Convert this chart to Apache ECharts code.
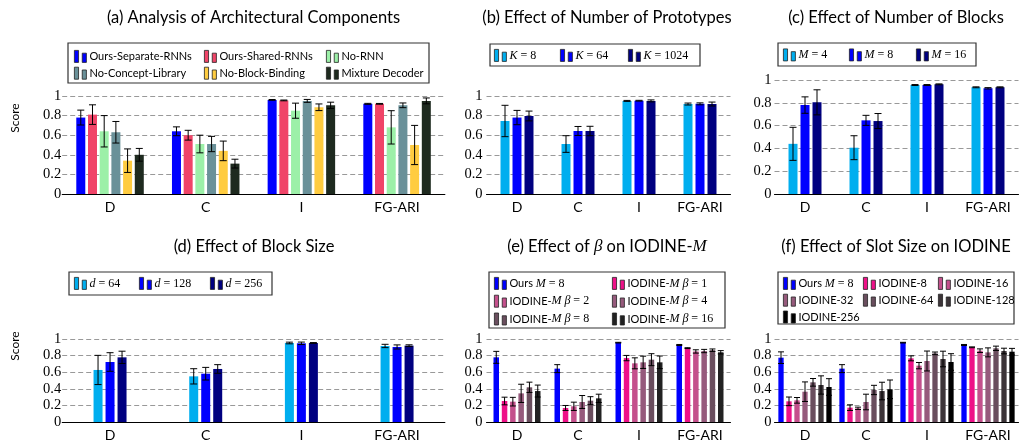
<!DOCTYPE html>
<html><head><meta charset="utf-8">
<script src="https://cdn.jsdelivr.net/npm/echarts@6/dist/echarts.min.js"></script>
<style>html,body{margin:0;padding:0;background:#fff}#c{width:1025px;height:440px}</style>
</head><body><div id="c"></div>
<script>
// ---------------- data ----------------
const categories = ['D', 'C', 'I', 'FG-ARI'];
const yTicks = [0, 0.2, 0.4, 0.6, 0.8, 1];

const titles = [
  '(a) Analysis of Architectural Components',
  '(b) Effect of Number of Prototypes',
  '(c) Effect of Number of Blocks',
  '(d) Effect of Block Size',
  '(e) Effect of {mi|β} on IODINE-{mi|M}',
  '(f) Effect of Slot Size on IODINE'
];
const yName = 'Score';

// (a)
const aNames = ['Ours-Separate-RNNs', 'Ours-Shared-RNNs', 'No-RNN', 'No-Concept-Library', 'No-Block-Binding', 'Mixture Decoder'];
const aMeans = [
  [0.78, 0.64, 0.96, 0.92],
  [0.81, 0.60, 0.955, 0.92],
  [0.64, 0.51, 0.85, 0.68],
  [0.63, 0.51, 0.95, 0.905],
  [0.34, 0.44, 0.885, 0.50],
  [0.40, 0.31, 0.905, 0.95]
];
const aErrs = [
  [0.076, 0.045, 0.004, 0.005],
  [0.10, 0.05, 0.004, 0.004],
  [0.16, 0.09, 0.077, 0.17],
  [0.11, 0.078, 0.015, 0.024],
  [0.12, 0.10, 0.034, 0.20],
  [0.065, 0.045, 0.032, 0.03]
];
// (b)
const bNames = ['K = 8', 'K = 64', 'K = 1024'];
const bMeans = [
  [0.745, 0.51, 0.95, 0.918],
  [0.78, 0.643, 0.952, 0.92],
  [0.796, 0.643, 0.95, 0.918]
];
const bErrs = [
  [0.16, 0.085, 0.005, 0.01],
  [0.073, 0.046, 0.004, 0.01],
  [0.05, 0.048, 0.01, 0.02]
];
// (c)
const cNames = ['M = 4', 'M = 8', 'M = 16'];
const cMeans = [
  [0.44, 0.406, 0.956, 0.936],
  [0.78, 0.646, 0.956, 0.927],
  [0.804, 0.64, 0.962, 0.936]
];
const cErrs = [
  [0.145, 0.105, 0.004, 0.004],
  [0.072, 0.044, 0.004, 0.006],
  [0.11, 0.066, 0.004, 0.004]
];
// (d)
const dNames = ['d = 64', 'd = 128', 'd = 256'];
const dMeans = [
  [0.627, 0.55, 0.952, 0.916],
  [0.723, 0.582, 0.948, 0.904],
  [0.779, 0.639, 0.952, 0.92]
];
const dErrs = [
  [0.176, 0.092, 0.01, 0.02],
  [0.112, 0.076, 0.015, 0.025],
  [0.074, 0.052, 0.005, 0.01]
];
// (e)
const eNames = ['Ours M = 8', 'IODINE-M β = 1', 'IODINE-M β = 2', 'IODINE-M β = 4', 'IODINE-M β = 8', 'IODINE-M β = 16'];
const eMeans = [
  [0.779, 0.643, 0.956, 0.928],
  [0.253, 0.169, 0.77, 0.89],
  [0.245, 0.189, 0.707, 0.85],
  [0.345, 0.241, 0.719, 0.855],
  [0.418, 0.257, 0.751, 0.865],
  [0.373, 0.285, 0.719, 0.84]
];
const eErrs = [
  [0.072, 0.048, 0.004, 0.006],
  [0.046, 0.03, 0.032, 0.005],
  [0.052, 0.05, 0.066, 0.02],
  [0.11, 0.078, 0.074, 0.02],
  [0.062, 0.048, 0.072, 0.015],
  [0.072, 0.05, 0.076, 0.02]
];
// (f)
const fNames = ['Ours M = 8', 'IODINE-8', 'IODINE-16', 'IODINE-32', 'IODINE-64', 'IODINE-128', 'IODINE-256'];
const fMeans = [
  [0.775, 0.643, 0.956, 0.928],
  [0.249, 0.173, 0.767, 0.90],
  [0.261, 0.165, 0.679, 0.859],
  [0.365, 0.241, 0.735, 0.839],
  [0.478, 0.386, 0.827, 0.888],
  [0.446, 0.373, 0.759, 0.855],
  [0.422, 0.394, 0.723, 0.847]
];
const fErrs = [
  [0.07, 0.048, 0.004, 0.006],
  [0.052, 0.034, 0.03, 0.005],
  [0.034, 0.014, 0.038, 0.022],
  [0.118, 0.094, 0.12, 0.054],
  [0.046, 0.056, 0.016, 0.026],
  [0.11, 0.106, 0.094, 0.034],
  [0.10, 0.112, 0.10, 0.04]
];

// ---------------- layout / style ----------------
const SANS = 'Lato';
const SERIF = 'Liberation Serif';
const richMath = {
  mi: { fontFamily: SERIF, fontStyle: 'italic', fontSize: 12, lineHeight: 12 },
  mr: { fontFamily: SERIF, fontSize: 12, lineHeight: 12 }
};
const ICON = 'path://M0,0H4.5V13H0Z M8.5,3H13V13H8.5Z';

const panels = [
  { names: aNames, means: aMeans, errs: aErrs,
    colors: ['#0000FF', '#F04468', '#9CF0A8', '#6A9199', '#FFCC40', '#1E2A1F'],
    grid: { left: 62.2, width: 382.7, top: 96, height: 98 }, barWidth: 9, step: 11.7, cap: 7, margin: 1,
    title: [253.5, 18], score: [15, 118],
    box: [68, 43, 361, 40], legTop: 50, legGap: 4,
    legCols: [[74, [0, 3]], [204, [1, 4]], [326, [2, 5]]] },
  { names: bNames, means: bMeans, errs: bErrs,
    colors: ['#00AEEF', '#0000FF', '#000080'],
    grid: { left: 486.5, width: 244, top: 96, height: 98 }, barWidth: 9, step: 12, cap: 7, margin: 4,
    title: [607, 18],
    box: [490, 44, 210, 22], legTop: 49, legGap: 4,
    legCols: [[494, [0]], [560, [1]], [628, [2]]] },
  { names: cNames, means: cMeans, errs: cErrs,
    colors: ['#00AEEF', '#0000FF', '#000080'],
    grid: { left: 774.5, width: 244, top: 80, height: 114 }, barWidth: 9, step: 12, cap: 7, margin: 3,
    title: [896, 18],
    box: [778, 43, 198, 23], legTop: 48.5, legGap: 4,
    legCols: [[783, [0]], [849, [1]], [916, [2]]] },
  { names: dNames, means: dMeans, errs: dErrs,
    colors: ['#00AEEF', '#0000FF', '#000080'],
    grid: { left: 62.2, width: 382.7, top: 339, height: 83 }, barWidth: 9, step: 12, cap: 7, margin: 1,
    title: [254, 247], score: [15, 346],
    box: [69, 272, 203, 23], legTop: 277, legGap: 4,
    legCols: [[74, [0]], [139, [1]], [210, [2]]] },
  { names: eNames, means: eMeans, errs: eErrs,
    colors: ['#0000FF', '#EE1188', '#C4508C', '#965A7C', '#6A4E5E', '#222222'],
    grid: { left: 486.5, width: 244, top: 339, height: 83 }, barWidth: 5.5, step: 8.3, cap: 6, margin: 4,
    title: [607, 247],
    box: [489, 272, 236, 56], legTop: 277, legGap: 5,
    legCols: [[494, [0, 2, 4]], [612, [1, 3, 5]]] },
  { names: fNames, means: fMeans, errs: fErrs,
    colors: ['#0000FF', '#EE1188', '#C4508C', '#965A7C', '#6A4E5E', '#3C3438', '#000000'],
    grid: { left: 774.5, width: 244, top: 339, height: 83 }, barWidth: 5.3, step: 8, cap: 6, margin: 3,
    title: [896, 247],
    box: [778, 272, 236, 52], legTop: 277, legGap: 4,
    legCols: [[783, [0, 3, 6]], [863, [1, 4]], [938, [2, 5]]] }
];

function mathify(s) {
  let t = s.replace(/ = (\d+)$/, '{mr| = $1}');
  t = t.replace(/(^|[-\s])([KMdβ])(?=[\s{])/g, '$1{mi|$2}');
  return t;
}

const grids = [], xAxes = [], yAxes = [], series = [], legends = [], graphics = [];

panels.forEach((p, pi) => {
  grids.push(Object.assign({ outerBoundsMode: 'none', containLabel: false }, p.grid));
  xAxes.push({
    type: 'category', gridIndex: pi, data: categories,
    axisLine: { lineStyle: { color: '#000', width: 1 } },
    axisTick: { show: false },
    axisLabel: { fontFamily: SANS, fontSize: 14, color: '#000', margin: 6 },
    splitLine: { show: false }, z: 5
  });
  yAxes.push({
    type: 'value', gridIndex: pi, min: 0, max: 1, interval: 0.2,
    axisLine: { show: false }, axisTick: { show: false },
    axisLabel: {
      fontFamily: SERIF, fontSize: 14.5, color: '#000', margin: p.margin,
      formatter: v => { const k = yTicks.findIndex(t => Math.abs(t - v) < 1e-6); return k >= 0 ? String(yTicks[k]) : ''; }
    },
    splitLine: { lineStyle: { color: '#999', type: [5, 3], width: 1 } }
  });
  const n = p.names.length;
  const gapPct = ((p.step - p.barWidth) / p.barWidth * 100).toFixed(1) + '%';
  p.names.forEach((name, si) => {
    series.push({
      type: 'bar', name: name, xAxisIndex: pi, yAxisIndex: pi,
      data: p.means[si], barWidth: p.barWidth, barGap: gapPct,
      itemStyle: { color: p.colors[si] }, emphasis: { disabled: true }, animation: false
    });
    const off = (si - (n - 1) / 2) * p.step;
    const half = p.cap / 2;
    series.push({
      type: 'custom', xAxisIndex: pi, yAxisIndex: pi, z: 10, animation: false, silent: true,
      data: p.means[si].map((m, j) => [j, m - p.errs[si][j], m + p.errs[si][j]]),
      encode: { x: 0, y: [1, 2] },
      renderItem: (params, api) => {
        const j = api.value(0);
        const lo = api.coord([j, api.value(1)]);
        const hi = api.coord([j, api.value(2)]);
        const cx = lo[0] + off;
        const st = { stroke: '#000', lineWidth: 1 };
        return { type: 'group', children: [
          { type: 'line', shape: { x1: cx, y1: lo[1], x2: cx, y2: hi[1] }, style: st },
          { type: 'line', shape: { x1: cx - half, y1: lo[1], x2: cx + half, y2: lo[1] }, style: st },
          { type: 'line', shape: { x1: cx - half, y1: hi[1], x2: cx + half, y2: hi[1] }, style: st }
        ] };
      }
    });
  });
  p.legCols.forEach(([left, idx]) => {
    legends.push({
      orient: 'vertical', left: left, top: p.legTop, padding: 0,
      data: idx.map(k => p.names[k]), icon: ICON,
      itemWidth: 12, itemHeight: 12, itemGap: p.legGap, selectedMode: false,
      itemStyle: { borderColor: '#222', borderWidth: 0.8 },
      formatter: mathify,
      textStyle: { fontFamily: SANS, fontSize: 11, color: '#000', lineHeight: 12, padding: [0, 0, 0, -2], rich: richMath }
    });
  });
  graphics.push({
    type: 'rect', shape: { x: p.box[0], y: p.box[1], width: p.box[2], height: p.box[3] },
    style: { fill: 'none', stroke: '#333', lineWidth: 1.2 }, z: 1
  });
  graphics.push({
    type: 'text', x: p.title[0], y: p.title[1],
    style: { text: titles[pi], fontFamily: SANS, fontSize: 16.5, fill: '#000', align: 'center', verticalAlign: 'middle',
      rich: { mi: { fontFamily: SERIF, fontStyle: 'italic', fontSize: 17 } } }
  });
  if (p.score) {
    graphics.push({
      type: 'text', x: p.score[0], y: p.score[1], rotation: Math.PI / 2,
      style: { text: yName, fontFamily: SANS, fontSize: 12, fill: '#000', align: 'center', verticalAlign: 'middle' }
    });
  }
});

const chart = echarts.init(document.getElementById('c'), null, { renderer: 'canvas' });
chart.setOption({
  backgroundColor: '#fff',
  animation: false,
  grid: grids, xAxis: xAxes, yAxis: yAxes, series: series, legend: legends, graphic: graphics
});
</script>
</body></html>
